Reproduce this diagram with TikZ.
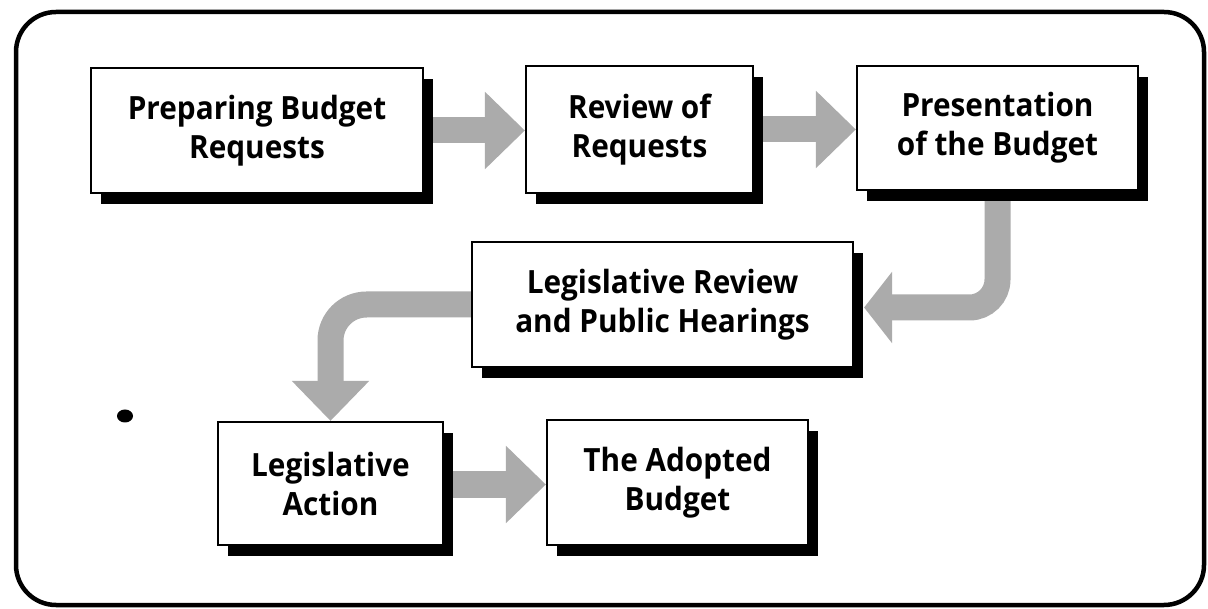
\documentclass[tikz,border=0pt]{standalone}
\usepackage{fontspec}
\newfontfamily\labfont{Open Sans}[FakeStretch=0.93]
\usetikzlibrary{arrows.meta,shadows,calc,backgrounds}
\begin{document}
\begin{tikzpicture}[x=1pt,y=-1pt,
  stagebox/.style={draw=black, line width=2.2pt, fill=white, align=center,
    font=\labfont\bfseries\fontsize{32}{39}\selectfont, inner sep=0pt,
    drop shadow={shadow xshift=10pt, shadow yshift=-11pt, fill=black, opacity=1}},
  flow/.style={draw=black!33, line width=26pt, line cap=butt,
    -{Triangle[width=75pt,length=40pt]}},
  frame/.style={draw=black, line width=4.5pt, rounded corners=40pt}]
\useasboundingbox (0,0) rectangle (1208,609);

\node[stagebox, minimum width=332pt, minimum height=125pt] (b1) at (257,130.5) {Preparing Budget\\Requests};
\node[stagebox, minimum width=227pt, minimum height=127pt] (b2) at (639.5,129.5) {Review of\\Requests};
\node[stagebox, minimum width=281pt, minimum height=124pt] (b3) at (997.5,128) {Presentation\\of the Budget};
\node[stagebox, minimum width=381pt, minimum height=125pt] (b4) at (662.5,304.5) {Legislative Review\\and Public Hearings};
\node[stagebox, minimum width=225pt, minimum height=123pt] (b5) at (330.5,483.5) {Legislative\\Action};
\node[stagebox, minimum width=261pt, minimum height=125pt] (b6) at (677.5,482.5) {The Adopted\\Budget};

\coordinate (c3) at ($(b3.south |- b4.east)+(0,3)$);
\coordinate (e3) at ($(b4.east)+(10,3)$);
\coordinate (c4) at (b5.north |- b4.west);

\begin{scope}[on background layer]
\fill[white] (0,0) rectangle (1208,609);
\draw[frame] (16,12) rectangle (1204,605);
\draw[flow] (b1.east) -- (b1.east -| b2.west);
\draw[flow] (b2.east) -- (b2.east -| b3.west);
\draw[flow, rounded corners=28pt, -{Triangle[width=70pt,length=28pt]}] (b3.south) -- (c3) -- (e3);
\draw[flow, rounded corners=36pt] (b4.west) -- (c4) -- (b5.north);
\draw[flow] ($(b5.east)+(0,1)$) -- ($(b5.east -| b6.west)+(0,1)$);
\end{scope}

\fill[black] (125,416) ellipse [x radius=8pt, y radius=6.5pt];
\end{tikzpicture}
\end{document}
